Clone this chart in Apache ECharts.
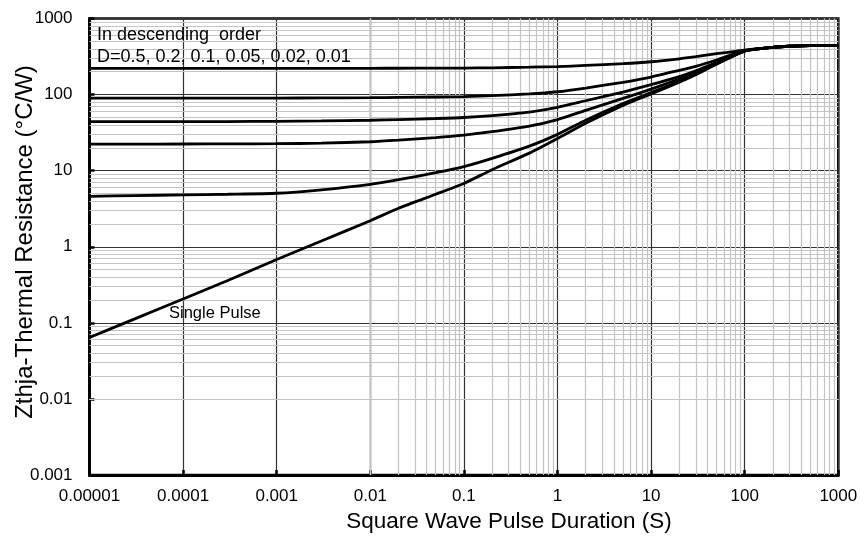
<!DOCTYPE html>
<html>
<head>
<meta charset="utf-8">
<script src="https://cdn.jsdelivr.net/npm/echarts@6/dist/echarts.min.js"></script>
<style>
html,body{margin:0;padding:0;background:#fff;}
#chart{width:861px;height:536px;}
</style>
</head>
<body>
<div id="chart"></div>
<script>
// ---- data ----
const pulseDuration = [1e-5, 3e-5, 1e-4, 3e-4, 1e-3, 3e-3, 0.01, 0.02, 0.05, 0.1, 0.2, 0.5, 1, 2, 5, 10, 20, 30, 50, 100, 200, 300, 500, 1000];
const zD050 = [221, 221, 221, 221, 221, 221, 221.5, 222, 222.5, 223, 225, 229, 233, 242, 255, 270, 295, 315, 345, 385, 418, 432, 440, 440];
const zD020 = [90, 90, 90, 90, 90, 90.5, 91, 92, 93, 94, 97, 102, 109, 122, 145, 170, 208, 235, 285, 378, 418, 432, 440, 440];
const zD010 = [44, 44, 44, 44.2, 44.5, 45, 46, 47, 48.5, 50, 53, 59, 68, 83, 108, 135, 172, 205, 265, 376, 418, 432, 440, 440];
const zD005 = [22.3, 22.3, 22.4, 22.5, 22.6, 23.0, 24.0, 25.2, 27.2, 29.3, 32.5, 38.5, 47, 62, 89, 118, 160, 195, 258, 375, 418, 432, 440, 440];
const zD001 = [4.6, 4.7, 4.8, 4.9, 5.05, 5.6, 6.6, 7.6, 9.4, 11.3, 14.5, 21, 30, 46, 76, 106, 149, 186, 254, 373, 418, 432, 440, 440];
const zSingle = [0.064, 0.112, 0.206, 0.36, 0.68, 1.19, 2.2, 3.2, 4.9, 6.8, 10.3, 17, 26.5, 42, 72, 102, 145, 182, 250, 372, 418, 432, 440, 440];

const xTicks = [1e-5, 1e-4, 1e-3, 1e-2, 1e-1, 1, 10, 100, 1000];
const xTickLabels = ['0.00001', '0.0001', '0.001', '0.01', '0.1', '1', '10', '100', '1000'];
const yTicks = [0.001, 0.01, 0.1, 1, 10, 100, 1000];
const yTickLabels = ['0.001', '0.01', '0.1', '1', '10', '100', '1000'];

const xName = 'Square Wave Pulse Duration (S)';
const yName = 'Zthja-Thermal Resistance (°C/W)';
const noteLine1 = 'In descending  order';
const noteLine2 = 'D=0.5, 0.2, 0.1, 0.05, 0.02, 0.01';
const singleLabel = 'Single Pulse';

// ---- build ----
function lookup(v, ticks, labels) {
  for (let i = 0; i < ticks.length; i++) {
    if (Math.abs(Math.log10(v) - Math.log10(ticks[i])) < 1e-6) return labels[i];
  }
  return '';
}
function pairs(ys) { return pulseDuration.map((x, i) => [x, ys[i]]); }

// minor log-paper grid values (2..9 within each decade)
const minorLines = [];
for (let k = -5; k < 3; k++) for (let m = 2; m <= 9; m++) minorLines.push({ xAxis: m * Math.pow(10, k) });
for (let k = -3; k < 3; k++) for (let m = 2; m <= 9; m++) minorLines.push({ yAxis: m * Math.pow(10, k) });

const FONT = '"Liberation Sans", Arial, sans-serif';
const curveStyle = { color: '#000', width: 2.8 };
function curve(name, ys) {
  return {
    name, type: 'line', data: pairs(ys), showSymbol: false, symbol: 'none',
    smooth: 0.2, lineStyle: curveStyle, z: 5, silent: true
  };
}

const chart = echarts.init(document.getElementById('chart'), null, { renderer: 'canvas' });
chart.setOption({
  animation: false,
  backgroundColor: '#fff',
  grid: { left: 89.5, right: 22.7, top: 18.5, bottom: 61, show: true, borderColor: '#000', borderWidth: 2.5, backgroundColor: 'transparent' },
  xAxis: {
    type: 'log', logBase: 10, min: 1e-5, max: 1000, splitNumber: 8,
    axisLine: { show: true, onZero: false, lineStyle: { color: '#000', width: 3 } },
    axisTick: { show: true, inside: true, length: 5, lineStyle: { color: '#000', width: 2.5 } },
    axisLabel: { margin: 13, color: '#000', fontSize: 17, fontFamily: FONT, formatter: v => lookup(v, xTicks, xTickLabels) },
    splitLine: { show: true, lineStyle: { color: '#333', width: 1.2 } },
    minorTick: { show: false }, minorSplitLine: { show: false }
  },
  yAxis: {
    type: 'log', logBase: 10, min: 0.001, max: 1000, splitNumber: 6,
    axisLine: { show: true, onZero: false, lineStyle: { color: '#000', width: 3 } },
    axisTick: { show: true, inside: true, length: 5, lineStyle: { color: '#000', width: 2.5 } },
    axisLabel: { margin: 17, color: '#000', fontSize: 17, fontFamily: FONT, formatter: v => lookup(v, yTicks, yTickLabels) },
    splitLine: { show: true, lineStyle: { color: '#333', width: 1.2 } }
  },
  graphic: [
    { type: 'text', x: 509, y: 522, silent: true, style: { text: xName, fontSize: 22.5, fontFamily: FONT, fill: '#000', textAlign: 'center', textVerticalAlign: 'middle' } },
    { type: 'text', x: 25, y: 242, rotation: Math.PI / 2, silent: true, style: { text: yName, fontSize: 24, fontFamily: FONT, fill: '#000', textAlign: 'center', textVerticalAlign: 'middle' } },
    { type: 'text', x: 97, y: 35, silent: true, z: 10, style: { text: noteLine1, fontSize: 18, fontFamily: FONT, fill: '#000', textAlign: 'left', textVerticalAlign: 'middle' } },
    { type: 'text', x: 97, y: 57, silent: true, z: 10, style: { text: noteLine2, fontSize: 18, fontFamily: FONT, fill: '#000', textAlign: 'left', textVerticalAlign: 'middle' } },
    { type: 'text', x: 169, y: 313, silent: true, z: 10, style: { text: singleLabel, fontSize: 16.5, fontFamily: FONT, fill: '#000', textAlign: 'left', textVerticalAlign: 'middle' } }
  ],
  series: [
    {
      name: 'grid-minor', type: 'line', data: [], silent: true, z: 1,
      markLine: {
        silent: true, symbol: ['none', 'none'], z: 1, animation: false,
        label: { show: false },
        lineStyle: { color: '#c4c4c4', type: 'solid', width: 1.2 },
        emphasis: { disabled: true },
        data: minorLines
      }
    },
    curve('D=0.5', zD050),
    curve('D=0.2', zD020),
    curve('D=0.1', zD010),
    curve('D=0.05', zD005),
    curve('D=0.01', zD001),
    curve('Single Pulse', zSingle)
  ]
});
</script>
</body>
</html>
